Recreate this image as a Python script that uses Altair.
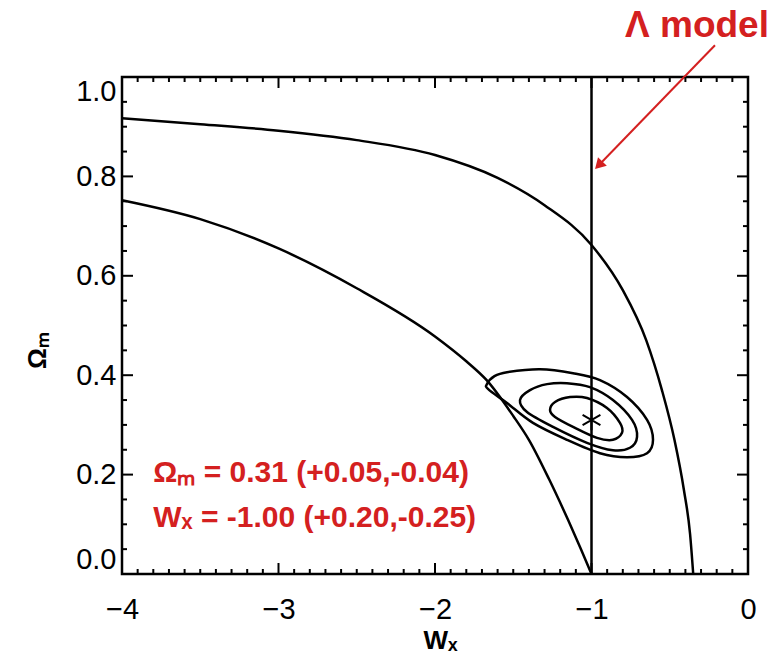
import altair as alt
import pandas as pd

# ---------------- data ----------------
x_major = [-4, -3, -2, -1, 0]
y_major = [0.0, 0.2, 0.4, 0.6, 0.8, 1.0]

upper_w = [-4.0, -3.5, -3.0, -2.5, -2.0, -1.6, -1.3, -1.0, -0.8, -0.65, -0.55, -0.47, -0.41, -0.37, -0.35]
upper_om = [0.917, 0.905, 0.892, 0.873, 0.843, 0.797, 0.742, 0.662, 0.571, 0.47, 0.37, 0.27, 0.17, 0.08, 0.0]

lower_w = [-4.0, -3.5, -3.0, -2.5, -2.0, -1.8, -1.67, -1.5, -1.4, -1.27, -1.15, -1.07, -1.0]
lower_om = [0.752, 0.714, 0.655, 0.575, 0.478, 0.428, 0.39, 0.318, 0.27, 0.19, 0.109, 0.052, 0.0]

c_outer_w = [-1.668, -1.62, -1.54, -1.329, -1.118, -0.946, -0.773, -0.645, -0.607, -0.645, -0.773, -0.946, -1.157, -1.374, -1.54, -1.66]
c_outer_om = [0.382, 0.398, 0.406, 0.412, 0.404, 0.390, 0.356, 0.310, 0.270, 0.243, 0.235, 0.243, 0.270, 0.304, 0.344, 0.372]

c_mid_w = [-1.457, -1.393, -1.284, -1.157, -1.010, -0.863, -0.741, -0.709, -0.754, -0.863, -1.029, -1.246, -1.412]
c_mid_om = [0.350, 0.370, 0.382, 0.384, 0.376, 0.350, 0.310, 0.276, 0.254, 0.249, 0.264, 0.296, 0.326]

c_in_w = [-1.265, -1.233, -1.137, -1.029, -0.901, -0.818, -0.805, -0.863, -0.965, -1.118, -1.233]
c_in_om = [0.330, 0.346, 0.356, 0.354, 0.334, 0.304, 0.284, 0.270, 0.274, 0.296, 0.316]

best_w = [-1.0]
best_om = [0.31]
lambda_w = [-1.0]

label_lines = ["Ωₘ = 0.31 (+0.05,-0.04)", "Wₓ = -1.00 (+0.20,-0.25)"]
label_w = [-3.80, -3.80]
label_om = [0.203, 0.113]

model_text = ["Λ model"]
model_w = [-0.326]
model_om = [1.103]

arrow_w = [-0.211, -0.946]
arrow_om = [1.064, 0.825]

# ---------------- layout ----------------
W, H = 626, 497
RED = "#d42020"
FONT = "Liberation Sans"

xs = alt.Scale(domain=[-4, 0], nice=False, zero=False)
ys = alt.Scale(domain=[0, 1], nice=False, zero=False)

xaxis = alt.Axis(values=x_major, title="Wₓ", ticks=False, tickSize=0, domain=False, grid=False,
                 labelFont=FONT, labelFontSize=29, labelColor="black", labelPadding=21,
                 labelFlush=False, format="d",
                 titleFont=FONT, titleFontSize=26, titleFontWeight="bold", titleColor="black",
                 titleX=318, titleY=66, titleBaseline="middle", titleAlign="center")
yaxis = alt.Axis(values=y_major, title="Ωₘ", ticks=False, tickSize=0, domain=False, grid=False,
                 labelFont=FONT, labelFontSize=29, labelColor="black", labelPadding=6,
                 labelFlush=True, format=".1f",
                 titleFont=FONT, titleFontSize=26, titleFontWeight="bold", titleColor="black",
                 titleX=-85, titleY=273, titleAngle=-90, titleBaseline="middle", titleAlign="center")


def X(field):
    return alt.X(field, type="quantitative", scale=xs, axis=xaxis)


def Y(field):
    return alt.Y(field, type="quantitative", scale=ys, axis=yaxis)


# inward ticks on all four sides (lengths in axis units)
x_minor = [round(-4 + 0.1 * k, 2) for k in range(41) if k % 10 != 0]
y_minor = [round(0.05 * k, 2) for k in range(21) if k % 4 != 0]
XL, XS = 11 / W * 4, 5 / W * 4     # horizontal tick lengths in w units
YL, YS = 11 / H, 5 / H             # vertical tick lengths in Omega units

bx = pd.DataFrame({"w": x_major + x_minor,
                   "lo": [0.0] * (len(x_major) + len(x_minor)),
                   "hi": [YL] * len(x_major) + [YS] * len(x_minor),
                   "lo2": [1 - YL] * len(x_major) + [1 - YS] * len(x_minor),
                   "hi2": [1.0] * (len(x_major) + len(x_minor))})
ly = pd.DataFrame({"om": y_major + y_minor,
                   "lo": [-4.0] * (len(y_major) + len(y_minor)),
                   "hi": [-4 + XL] * len(y_major) + [-4 + XS] * len(y_minor),
                   "lo2": [-XL] * len(y_major) + [-XS] * len(y_minor),
                   "hi2": [0.0] * (len(y_major) + len(y_minor))})

TW = 2
tick_b = alt.Chart(bx).mark_rule(color="black", strokeWidth=TW).encode(
    x=X("w"), y=Y("lo"), y2=alt.Y2("hi"))
tick_t = alt.Chart(bx).mark_rule(color="black", strokeWidth=TW).encode(
    x=X("w"), y=Y("lo2"), y2=alt.Y2("hi2"))
tick_l = alt.Chart(ly).mark_rule(color="black", strokeWidth=TW).encode(
    y=Y("om"), x=X("lo"), x2=alt.X2("hi"))
tick_r = alt.Chart(ly).mark_rule(color="black", strokeWidth=TW).encode(
    y=Y("om"), x=X("lo2"), x2=alt.X2("hi2"))

# curves
curve_df = pd.concat([
    pd.DataFrame({"w": upper_w, "om": upper_om, "curve": "upper", "i": range(len(upper_w))}),
    pd.DataFrame({"w": lower_w, "om": lower_om, "curve": "lower", "i": range(len(lower_w))}),
])
curves = alt.Chart(curve_df).mark_line(color="black", strokeWidth=2.5, interpolate="monotone").encode(
    x=X("w"), y=Y("om"), detail="curve:N", order="i:Q")

cont_df = pd.concat([
    pd.DataFrame({"w": c_outer_w, "om": c_outer_om, "lvl": "a", "i": range(len(c_outer_w))}),
    pd.DataFrame({"w": c_mid_w, "om": c_mid_om, "lvl": "b", "i": range(len(c_mid_w))}),
    pd.DataFrame({"w": c_in_w, "om": c_in_om, "lvl": "c", "i": range(len(c_in_w))}),
])
contours = alt.Chart(cont_df).mark_line(color="black", strokeWidth=2.5, interpolate="cardinal-closed").encode(
    x=X("w"), y=Y("om"), detail="lvl:N", order="i:Q")

vline = alt.Chart(pd.DataFrame({"w": lambda_w})).mark_rule(color="black", strokeWidth=2.5).encode(
    x=X("w"), y=alt.Y(datum=0, scale=ys, axis=yaxis), y2=alt.Y2(datum=1))

star = alt.Chart(pd.DataFrame({"w": best_w, "om": best_om})).mark_point(
    shape="M0,-1L0,1M-0.87,-0.5L0.87,0.5M-0.87,0.5L0.87,-0.5", filled=False,
    color="black", strokeWidth=2, size=420, opacity=1).encode(x=X("w"), y=Y("om"))

labels = alt.Chart(pd.DataFrame({"w": label_w, "om": label_om, "txt": label_lines})).mark_text(
    align="left", baseline="middle", font=FONT, fontSize=30, fontWeight="bold", color=RED).encode(
    x=X("w"), y=Y("om"), text="txt:N")

model = alt.Chart(pd.DataFrame({"w": model_w, "om": model_om, "txt": model_text})).mark_text(
    align="center", baseline="middle", font=FONT, fontSize=37, fontWeight="bold", color=RED).encode(
    x=X("w"), y=Y("om"), text="txt:N")

arrow_line = alt.Chart(pd.DataFrame({"w": arrow_w, "om": arrow_om, "i": [0, 1]})).mark_line(
    color=RED, strokeWidth=2).encode(x=X("w"), y=Y("om"), order="i:Q")
arrow_head = alt.Chart(pd.DataFrame({"w": arrow_w[1:], "om": arrow_om[1:]})).mark_point(
    shape="triangle", filled=True, color=RED, size=150, angle=224, opacity=1).encode(
    x=X("w"), y=Y("om"))

chart = alt.layer(curves, contours, vline, star, labels, model, arrow_line, arrow_head,
                  tick_b, tick_t, tick_l, tick_r).properties(
    width=W, height=H,
    autosize=alt.AutoSizeParams(type="none"),
    padding={"left": 122, "top": 77, "right": 32, "bottom": 95},
    background="white",
).configure_view(stroke="black", strokeWidth=2.5)

chart.save("out.html", embed_options={"renderer": "svg", "actions": False})
